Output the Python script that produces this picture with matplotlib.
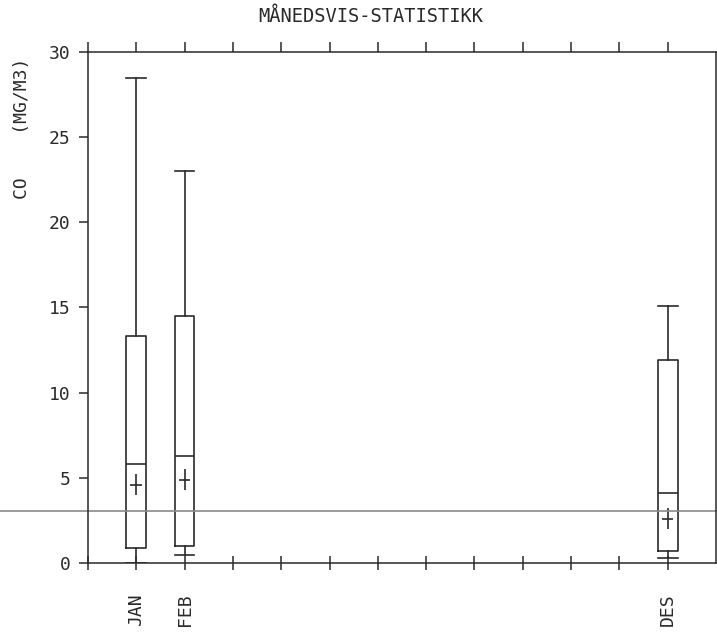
import matplotlib
matplotlib.use("Agg")
import matplotlib.pyplot as plt

# ── data ────────────────────────────────────────────────────────
months = ["JAN", "FEB", "MAR", "APR", "MAI", "JUN",
          "JUL", "AUG", "SEP", "OKT", "NOV", "DES"]
shown = ["JAN", "FEB", "DES"]          # months that have data / labels
box_pos = [1, 2, 12]
whisk_lo = [0.0, 0.47, 0.3]
q1 = [0.88, 1.0, 0.7]
median = [5.8, 6.3, 4.1]
q3 = [13.3, 14.5, 11.9]
whisk_hi = [28.5, 23.0, 15.1]
mean = [4.6, 4.9, 2.6]
limit_value = 3.05
y_ticks = [0, 5, 10, 15, 20, 25, 30]

ink = "#2a2a2a"
plt.rcParams["font.family"] = ["DejaVu Sans Mono"]

fig = plt.figure(figsize=(7.17, 6.37), dpi=100)
ax = fig.add_axes([0.1227, 0.1162, 0.8759, 0.8022])

stats = []
for i, name in enumerate(shown):
    stats.append(dict(label=name, whislo=whisk_lo[i], q1=q1[i], med=median[i],
                      q3=q3[i], whishi=whisk_hi[i], fliers=[]))

line = dict(color=ink, linewidth=1.2)
ax.bxp(stats, positions=box_pos, widths=0.41, capwidths=0.41,
       showfliers=False, boxprops=line, whiskerprops=line, capprops=line,
       medianprops=line, manage_ticks=False)
# mean markers: small crosses, taller than wide
ax.errorbar(box_pos, mean, xerr=0.12, yerr=0.6, fmt="none",
            ecolor=ink, elinewidth=1.2, capsize=0)

# reference line drawn across the whole sheet
ax.axhline(limit_value, xmin=-0.14, xmax=1.0, color="#8a8a8a",
           linewidth=1.2, clip_on=False)

ax.set_xlim(0, 13)
ax.set_ylim(0, 30)
ax.set_yticks(y_ticks)
ax.set_yticklabels([str(v) for v in y_ticks], fontsize=13, color=ink)
ax.set_xticks(range(0, 13))
ax.set_xticklabels([""] + [m if m in shown else "" for m in months],
                   rotation=90, fontsize=13, color=ink)

ax.tick_params(axis="x", bottom=True, top=True, direction="inout",
               length=10, width=1.1, pad=17, colors=ink)
ax.tick_params(axis="y", direction="out", length=6.5, width=1.1,
               pad=6, colors=ink)
for tick in ax.xaxis.get_major_ticks():
    tick.tick2line.set_marker(matplotlib.lines.TICKUP)
    tick.tick2line.set_markersize(7)

for side in ["top", "bottom", "left", "right"]:
    ax.spines[side].set_color(ink)
    ax.spines[side].set_linewidth(1.1)

fig.text(371 / 717, 1 - 17 / 637, "MÅNEDSVIS-STATISTIKK", fontsize=13.5,
         color=ink, ha="center", va="center")
fig.text(22 / 717, 1 - 128 / 637, "CO    (MG/M3)", fontsize=13, color=ink,
         rotation=90, ha="center", va="center")

fig.savefig("out.png", dpi=100)
